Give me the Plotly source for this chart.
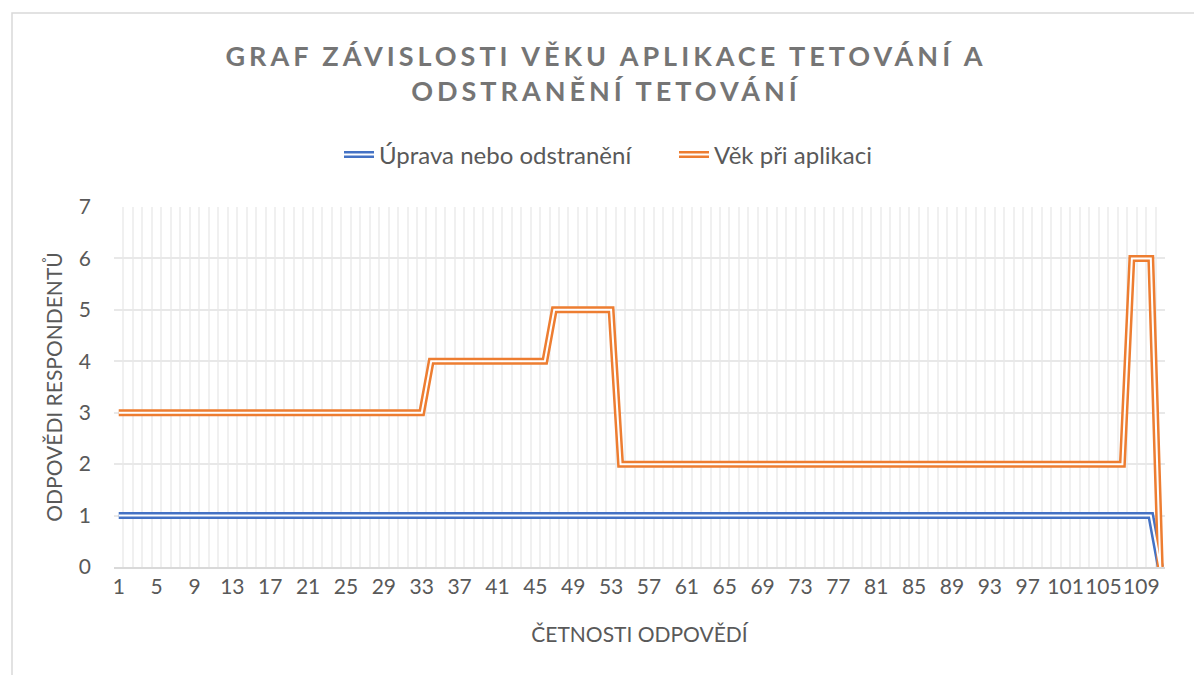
import plotly.graph_objects as go

# Data
categories = list(range(1, 112))
tick_labels = [str(v) for v in range(1, 110, 4)]
uprava = [1] * 110 + [0]
vek = [3] * 33 + [4] * 13 + [5] * 7 + [2] * 54 + [6] * 3 + [0]

series_names = ["Úprava nebo odstranění", "Věk při aplikaci"]
series_values = [uprava, vek]
series_colors = ["#4472C4", "#ED7D31"]

FONT = "Lato, 'Open Sans', sans-serif"
TXT = "#595959"

fig = go.Figure()
for name, vals, col in zip(series_names, series_values, series_colors):
    fig.add_trace(go.Scatter(
        x=categories, y=vals, mode="lines", name=name,
        line=dict(color=col, width=7), legendgroup=name,
        hoverinfo="skip"))
for name, vals, col in zip(series_names, series_values, series_colors):
    fig.add_trace(go.Scatter(
        x=categories, y=vals, mode="lines", name=name,
        line=dict(color="white", width=2), legendgroup=name,
        showlegend=False, hoverinfo="skip"))

fig.update_layout(
    width=1194, height=675,
    paper_bgcolor="white", plot_bgcolor="white",
    margin=dict(l=114, r=29, t=207, b=108),
    font=dict(family=FONT, color=TXT, size=20),
    title=dict(
        text="GRAF ZÁVISLOSTI VĚKU APLIKACE TETOVÁNÍ A<br>ODSTRANĚNÍ TETOVÁNÍ",
        x=606 / 1194, xanchor="center", xref="container",
        y=1 - 66 / 675, yanchor="middle", yref="container",
        font=dict(family=FONT, size=27, color="#757575", weight="bold"),
    ),
    legend=dict(
        orientation="h", xref="container", yref="container",
        x=674 / 1194, xanchor="center", y=1 - 155 / 675, yanchor="middle",
        font=dict(family=FONT, size=24, color=TXT),
        itemwidth=30, tracegroupgap=0, entrywidth=290, entrywidthmode="pixels",
    ),
    showlegend=True,
)

fig.update_xaxes(
    range=[0.5, 111.5], tickmode="array", tickvals=list(range(1, 110, 4)),
    ticktext=tick_labels, tickangle=0, showgrid=False, zeroline=False,
    showline=True, linecolor="#d9d9d9", linewidth=1.5,
    ticks="", tickfont=dict(size=21, color=TXT), automargin=False,
    minor=dict(tickmode="linear", tick0=0.5, dtick=1, showgrid=True,
               gridcolor="#f0f0f0", gridwidth=1.5),
    title=dict(text="ČETNOSTI ODPOVĚDÍ", font=dict(size=21, color=TXT), standoff=30),
)
fig.update_yaxes(
    range=[0, 7], tickmode="linear", tick0=0, dtick=1,
    showgrid=True, gridcolor="#e8e8e8", gridwidth=1.5, zeroline=False,
    showline=False, ticks="", ticklabelstandoff=22, automargin=False,
    tickfont=dict(size=21, color=TXT),
    title=dict(text="ODPOVĚDI RESPONDENTŮ", font=dict(size=21, color=TXT), standoff=10),
)

# chart area border (Excel-like)
fig.add_shape(type="rect", xref="paper", yref="paper",
              x0=(12 - 114) / 1051, x1=(1210 - 114) / 1051,
              y0=(567 - 690) / 360, y1=(567 - 13) / 360,
              line=dict(color="#d9d9d9", width=1.5), fillcolor="rgba(0,0,0,0)",
              layer="below")

post = """
document.body.style.margin = '0';
var gd = document.getElementById('{plot_id}');
var t = gd.querySelector('.gtitle');
if (t) { t.style.letterSpacing = '4px'; }
gd.querySelectorAll('.legend .legendlines path').forEach(function(p) {
  var c = p.cloneNode(true);
  c.style.stroke = 'white';
  c.style.strokeWidth = '2px';
  p.parentNode.appendChild(c);
});
"""
fig.write_html("out.html", post_script=post, config={"displayModeBar": False})
